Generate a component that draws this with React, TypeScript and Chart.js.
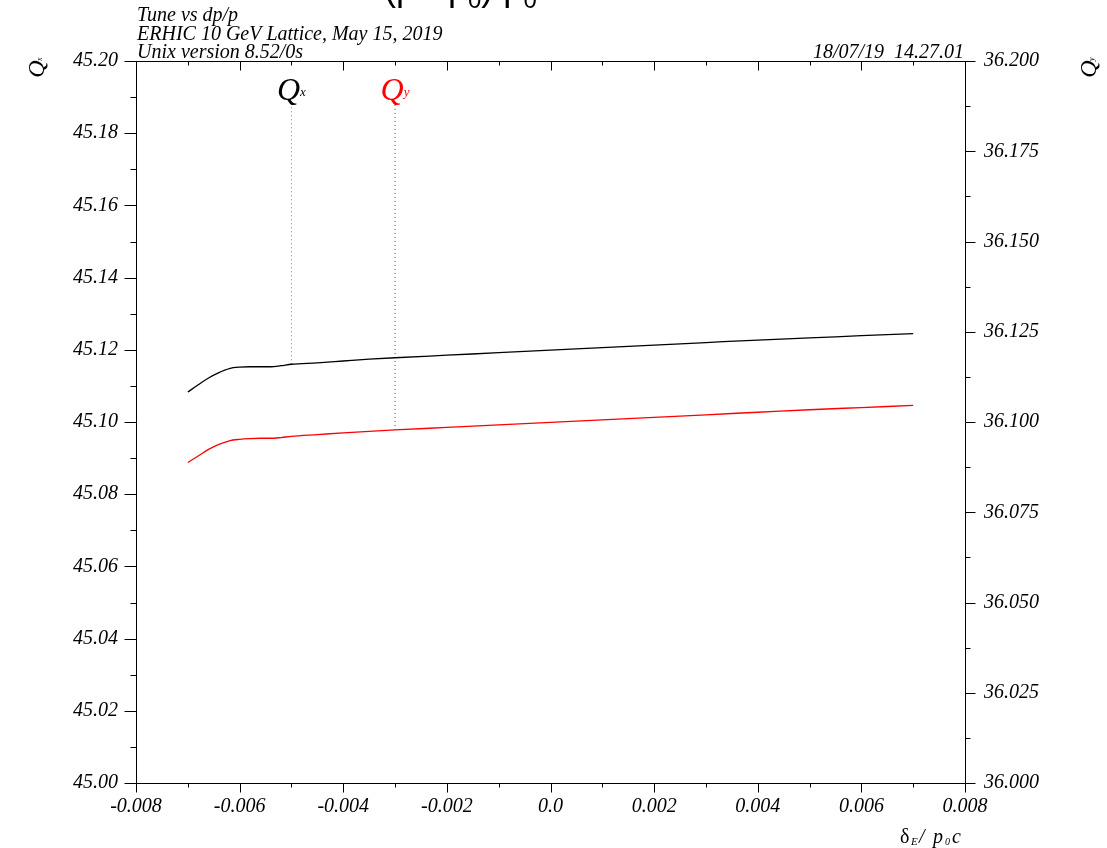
import React, { useEffect, useRef } from 'react';
import { Chart, registerables } from 'chart.js';

Chart.register(...registerables);

// ---- data ----
const dpp = [
  -0.007, -0.0068, -0.0066, -0.0064, -0.0062, -0.006, -0.0058, -0.0056, -0.0054, -0.0052,
  -0.005, -0.0045, -0.004, -0.0035, -0.003, -0.002, -0.001, 0, 0.001, 0.002, 0.003, 0.004,
  0.005, 0.006, 0.007,
];
const qx = [
  45.1083, 45.1103, 45.1122, 45.1137, 45.1148, 45.1152, 45.1153, 45.1153, 45.1153, 45.1156,
  45.116, 45.1164, 45.1169, 45.1174, 45.1178, 45.1185, 45.1192, 45.1199, 45.1206, 45.1213,
  45.122, 45.1227, 45.1233, 45.1239, 45.1245,
];
const qy = [
  36.0888, 36.0906, 36.0924, 36.0938, 36.0948, 36.0952, 36.0954, 36.0955, 36.0955, 36.0957,
  36.096, 36.0965, 36.097, 36.0974, 36.0978, 36.0985, 36.0992, 36.0999, 36.1006, 36.1013,
  36.102, 36.1027, 36.1034, 36.104, 36.1046,
];
const qxMarker = [{ x: -0.005, y: 45.116 }, { x: -0.005, y: 45.1878 }];
const qyMarker = [{ x: -0.003, y: 36.0978 }, { x: -0.003, y: 36.1878 }];

const xRange = [-0.008, 0.008];
const yLeftRange = [45.0, 45.2];
const yRightRange = [36.0, 36.2];
const xMajorStep = 0.002;
const yLeftMajorStep = 0.02;
const yRightMajorStep = 0.025;

const headerLines = ['Tune vs dp/p', 'ERHIC 10 GeV Lattice, May 15, 2019', 'Unix version 8.52/0s'];
const dateText = '18/07/19  14.27.01';

const SERIF = '"Liberation Serif", "Times New Roman", serif';
const SANS = '"Liberation Sans", Arial, sans-serif';

const decorPlugin = {
  id: 'decor',
  afterDraw(chart: any) {
    const { ctx, chartArea: a, scales } = chart;
    const xs = scales.x;
    const yl = scales.y;
    const yr = scales.y2;
    ctx.save();
    ctx.strokeStyle = '#000';
    ctx.lineWidth = 1;
    const L = Math.round(a.left) + 0.5;
    const R = Math.round(a.right) + 0.5;
    const T = Math.round(a.top) + 0.5;
    const B = Math.round(a.bottom) + 0.5;
    ctx.beginPath();
    ctx.rect(L, T, R - L, B - T);
    // left ticks
    for (let i = 0; i <= 20; i++) {
      const v = yLeftRange[0] + i * (yLeftMajorStep / 2);
      const p = Math.round(yl.getPixelForValue(v)) + 0.5;
      const len = i % 2 === 0 ? 12 : 6;
      ctx.moveTo(L - len, p);
      ctx.lineTo(L, p);
    }
    // right ticks
    for (let i = 0; i <= 16; i++) {
      const v = yRightRange[0] + i * (yRightMajorStep / 2);
      const p = Math.round(yr.getPixelForValue(v)) + 0.5;
      const len = i % 2 === 0 ? 10 : 5;
      ctx.moveTo(R, p);
      ctx.lineTo(R + len, p);
    }
    // bottom + top ticks
    for (let i = 0; i <= 16; i++) {
      const v = xRange[0] + i * (xMajorStep / 2);
      const p = Math.round(xs.getPixelForValue(v)) + 0.5;
      const len = i % 2 === 0 ? 9 : 4;
      ctx.moveTo(p, B);
      ctx.lineTo(p, B + len);
      ctx.moveTo(p, T);
      ctx.lineTo(p, T + len);
    }
    ctx.stroke();

    // header text
    ctx.fillStyle = '#000';
    ctx.font = `italic 20px ${SERIF}`;
    ctx.textBaseline = 'alphabetic';
    ctx.textAlign = 'left';
    ctx.fillText(headerLines[0], 137, 21);
    ctx.fillText(headerLines[1], 137, 40);
    ctx.fillText(headerLines[2], 137, 58);
    ctx.textAlign = 'right';
    ctx.fillText(dateText, a.right - 1, 58);

    // clipped big title at top
    ctx.textAlign = 'left';
    let tx = 384;
    const tb = 0;
    const part = (s: string, f: string, dy: number) => {
      ctx.font = f;
      ctx.fillText(s, tx, tb + dy);
      tx += ctx.measureText(s).width;
    };
    part('(p - p', `36px ${SANS}`, 0);
    part('0', `24px ${SANS}`, 8);
    part(')/p', `36px ${SANS}`, 0);
    part('0', `24px ${SANS}`, 8);

    // Q labels at markers
    const qLabel = (xv: number, yPix: number, sub: string, color: string) => {
      ctx.fillStyle = color;
      ctx.font = `italic 32px ${SERIF}`;
      const w1 = ctx.measureText('Q').width;
      ctx.font = `italic 13px ${SERIF}`;
      const w2 = ctx.measureText(sub).width;
      const cx = xs.getPixelForValue(xv);
      const x0 = cx - (w1 + w2) / 2;
      ctx.font = `italic 32px ${SERIF}`;
      ctx.fillText('Q', x0, yPix);
      ctx.font = `italic 13px ${SERIF}`;
      ctx.fillText(sub, x0 + w1, yPix - 4);
    };
    qLabel(qxMarker[1].x, yl.getPixelForValue(qxMarker[1].y) - 5, 'x', '#000');
    qLabel(qyMarker[1].x, yr.getPixelForValue(qyMarker[1].y) - 5, 'y', '#ff0000');

    // rotated axis Q labels
    const rotQ = (cx: number, cy: number, sub: string) => {
      ctx.save();
      ctx.fillStyle = '#000';
      ctx.translate(cx, cy);
      ctx.rotate(-Math.PI / 2);
      ctx.font = `italic 24px ${SERIF}`;
      ctx.textAlign = 'center';
      ctx.fillText('Q', 0, 8);
      ctx.font = `italic 8px ${SERIF}`;
      ctx.textAlign = 'left';
      ctx.fillText(sub, 8, 6);
      ctx.restore();
    };
    rotQ(36, 69, 'x');
    rotQ(1088, 69, 'y');

    // x axis title: δE/ p0c
    ctx.fillStyle = '#000';
    ctx.textAlign = 'left';
    ctx.font = `20px ${SERIF}`;
    ctx.fillText('δ', 900, 843);
    ctx.font = `italic 11px ${SERIF}`;
    ctx.fillText('E', 911, 845);
    ctx.font = `italic 20px ${SERIF}`;
    ctx.fillText('/', 919, 843);
    ctx.fillText('p', 933, 843);
    ctx.font = `italic 10px ${SERIF}`;
    ctx.fillText('0', 945, 845);
    ctx.font = `italic 20px ${SERIF}`;
    ctx.fillText('c', 952, 843);
    ctx.restore();
  },
};

export default function App() {
  const ref = useRef<HTMLCanvasElement>(null);
  useEffect(() => {
    if (!ref.current) return;
    const tickFont = { family: SERIF, size: 20, style: 'italic' as const };
    const chart = new Chart(ref.current, {
      type: 'line',
      data: {
        datasets: [
          {
            label: 'Qx',
            data: dpp.map((x, i) => ({ x, y: qx[i] })),
            borderColor: '#000',
            borderWidth: 1.3,
            pointRadius: 0,
            yAxisID: 'y',
            cubicInterpolationMode: 'monotone',
          },
          {
            label: 'Qy',
            data: dpp.map((x, i) => ({ x, y: qy[i] })),
            borderColor: '#ff0000',
            borderWidth: 1.3,
            pointRadius: 0,
            yAxisID: 'y2',
            cubicInterpolationMode: 'monotone',
          },
          {
            label: 'Qx marker',
            data: qxMarker,
            borderColor: '#808080',
            borderWidth: 1,
            borderDash: [1, 3],
            pointRadius: 0,
            yAxisID: 'y',
          },
          {
            label: 'Qy marker',
            data: qyMarker,
            borderColor: '#ff0000',
            borderWidth: 1,
            borderDash: [1, 3],
            pointRadius: 0,
            yAxisID: 'y2',
          },
        ],
      },
      options: {
        animation: false,
        responsive: false,
        devicePixelRatio: 1,
        layout: { padding: { top: 61, left: 0, right: 0, bottom: 0 } },
        plugins: { legend: { display: false }, tooltip: { enabled: false }, title: { display: false } },
        scales: {
          x: {
            type: 'linear',
            position: 'bottom',
            min: xRange[0],
            max: xRange[1],
            grid: { display: false, drawTicks: false },
            border: { display: false },
            ticks: {
              stepSize: xMajorStep,
              autoSkip: false,
              maxRotation: 0,
              padding: 12,
              color: '#000',
              font: tickFont,
              callback: (v: any) => (Math.abs(Number(v)) < 1e-9 ? '0.0' : Number(v).toFixed(3)),
            },
            afterFit: (s: any) => {
              s.height = 65;
            },
          },
          y: {
            type: 'linear',
            position: 'left',
            min: yLeftRange[0],
            max: yLeftRange[1],
            grid: { display: false, drawTicks: false },
            border: { display: false },
            ticks: {
              stepSize: yLeftMajorStep,
              autoSkip: false,
              padding: 18,
              color: '#000',
              font: tickFont,
              callback: (v: any) => Number(v).toFixed(2),
            },
            afterFit: (s: any) => {
              s.width = 136;
            },
          },
          y2: {
            type: 'linear',
            position: 'right',
            min: yRightRange[0],
            max: yRightRange[1],
            grid: { display: false, drawTicks: false },
            border: { display: false },
            ticks: {
              stepSize: yRightMajorStep,
              autoSkip: false,
              padding: 19,
              color: '#000',
              font: tickFont,
              callback: (v: any) => Number(v).toFixed(3),
            },
            afterFit: (s: any) => {
              s.width = 142;
            },
          },
        },
      },
      plugins: [decorPlugin],
    });
    return () => chart.destroy();
  }, []);
  return (
    <div style={{ position: 'absolute', left: 0, top: 0, width: 1107, height: 848, background: '#fff' }}>
      <canvas ref={ref} width={1107} height={848} style={{ width: 1107, height: 848, display: 'block' }} />
    </div>
  );
}
